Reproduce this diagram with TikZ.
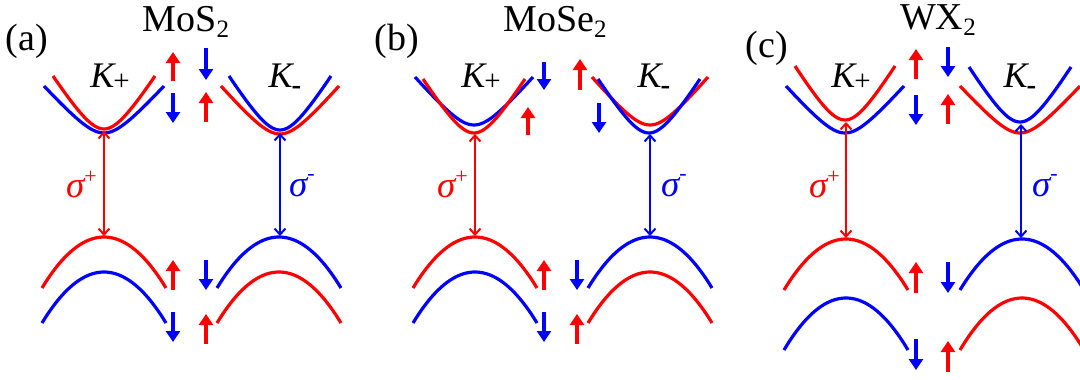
\documentclass[tikz,border=0pt]{standalone}
\usepackage{fontspec}
\setmainfont{Liberation Serif}
\usetikzlibrary{arrows.meta}
\definecolor{myred}{RGB}{255,0,0}
\definecolor{myblue}{RGB}{0,0,255}
\newcommand{\cband}[5]{\draw[band,#1] plot[domain=-#4:#4,samples=41,smooth] ({#2+\x},{#3+(#5-#3)*(sqrt(1+(\x/22)^2)-1)/(sqrt(1+(#4/22)^2)-1)});}
\newcommand{\vband}[5]{\draw[band,#1] plot[domain=-#4:#4,samples=41,smooth] ({#2+\x},{#3+(#5-#3)*(\x/#4)^2});}
\newcommand{\spinarrow}[4]{\draw[spinarr,#1] (#2,#3) -- (#2,#4);}
\newcommand{\Kp}{{\fontsize{36}{36}\selectfont\itshape K}\kern-1pt\raisebox{-3pt}{\fontsize{29}{29}\selectfont +}}
\newcommand{\Km}{{\fontsize{36}{36}\selectfont\itshape K}\kern-1pt\raisebox{-7pt}{\fontsize{29}{29}\selectfont\bfseries -}}
\newcommand{\sigp}{{\fontsize{37}{37}\selectfont\itshape σ}\raisebox{14pt}{\fontsize{22}{22}\selectfont +}}
\newcommand{\sigm}{{\fontsize{37}{37}\selectfont\itshape σ}\raisebox{16pt}{\fontsize{22}{22}\selectfont -}}
\newcommand{\sub}[1]{\raisebox{-6pt}{\fontsize{25}{25}\selectfont #1}}
\begin{document}
\begin{tikzpicture}[x=1pt,y=-1pt,
  band/.style={line width=3.2pt},
  spinarr/.style={line width=3.6pt,-{Triangle[length=11pt,width=14pt]}},
  trans/.style={line width=2pt,{Straight Barb[length=6pt,width=11pt]}-{Straight Barb[length=6pt,width=11pt]}},
  ttl/.style={font=\fontsize{38}{38}\selectfont,inner sep=0pt,anchor=base},
  klab/.style={inner sep=0pt,anchor=base},
  slab/.style={inner sep=0pt,anchor=base west}]
\useasboundingbox (0,0) rectangle (1080,380);
\clip (0,0) rectangle (1080,380);

% ---------- titles ----------
\node[ttl] (la) at (27,50) {(a)};
\node[ttl] (ta) at (186,31) {MoS\sub{2}};
\node[ttl] (lb) at (397,50) {(b)};
\node[ttl] (tb) at (555,31) {MoSe\sub{2}};
\node[ttl] (lc) at (767,57) {(c)};
\node[ttl] (tc) at (938,29) {WX\sub{2}};

\node[klab] (kpa) at (110,87) {\Kp};
\node[klab] (kma) at (285,87) {\Km};
\node[klab] (kpb) at (481,87) {\Kp};
\node[klab] (kmb) at (654,87) {\Km};
\node[klab] (kpc) at (851,87) {\Kp};
\node[klab] (kmc) at (1020,87) {\Km};

% ---------- panel (a) ----------
\cband{myred}{104}{129}{51}{76}
\cband{myblue}{104}{133}{60}{86}
\cband{myblue}{280}{130}{51}{76}
\cband{myred}{280}{134}{59}{86}
\vband{myred}{104}{237}{62}{288}
\vband{myblue}{104}{272}{62}{323}
\vband{myblue}{279}{237}{62}{288}
\vband{myred}{279}{272}{62}{323}
\spinarrow{myred}{173}{81}{52}
\spinarrow{myblue}{206}{48}{80}
\spinarrow{myblue}{173}{93}{123}
\spinarrow{myred}{206}{122}{92}
\spinarrow{myred}{173}{290}{260}
\spinarrow{myblue}{206}{260}{290}
\spinarrow{myblue}{173}{312}{342}
\spinarrow{myred}{206}{344}{314}
\coordinate (aC1) at (104,131);
\coordinate (aV1) at (104,236);
\coordinate (aC2) at (280,133);
\coordinate (aV2) at (280,236);
\draw[trans,myred] (aC1) -- (aV1);
\draw[trans,myblue] (aC2) -- (aV2);
\node[slab,text=myred] (sa1) at (66,197) {\sigp};
\node[slab,text=myblue] (sa2) at (289,196) {\sigm};

% ---------- panel (b) ----------
\cband{myblue}{474}{125}{59}{77}
\cband{myred}{474}{133}{51}{79}
\cband{myred}{650}{125}{58}{77}
\cband{myblue}{649}{133}{51}{79}
\vband{myred}{475}{237}{62}{288}
\vband{myblue}{475}{272}{62}{323}
\vband{myblue}{650}{237}{62}{288}
\vband{myred}{650}{272}{62}{323}
\spinarrow{myblue}{544}{62}{90}
\spinarrow{myred}{580}{90}{59}
\spinarrow{myred}{528}{135}{107}
\spinarrow{myblue}{599}{103}{133}
\spinarrow{myred}{544}{290}{260}
\spinarrow{myblue}{577}{260}{290}
\spinarrow{myblue}{544}{312}{342}
\spinarrow{myred}{577}{344}{314}
\coordinate (bC1) at (475,134);
\coordinate (bV1) at (475,236);
\coordinate (bC2) at (650,134);
\coordinate (bV2) at (650,236);
\draw[trans,myred] (bC1) -- (bV1);
\draw[trans,myblue] (bC2) -- (bV2);
\node[slab,text=myred] (sb1) at (437,197) {\sigp};
\node[slab,text=myblue] (sb2) at (661,196) {\sigm};

% ---------- panel (c) ----------
\cband{myred}{845}{120}{50}{66}
\cband{myblue}{845}{133}{59}{86}
\cband{myblue}{1020}{122}{51}{67}
\cband{myred}{1020}{133}{60}{86}
\vband{myred}{846}{239}{62}{290}
\vband{myblue}{846}{298}{62}{350}
\vband{myblue}{1022}{239}{62}{290}
\vband{myred}{1022}{298}{62}{350}
\spinarrow{myred}{916}{79}{49}
\spinarrow{myblue}{948}{47}{77}
\spinarrow{myblue}{916}{95}{125}
\spinarrow{myred}{948}{124}{94}
\spinarrow{myred}{916}{293}{262}
\spinarrow{myblue}{948}{262}{293}
\spinarrow{myblue}{916}{339}{370}
\spinarrow{myred}{948}{372}{341}
\coordinate (cC1) at (846,122);
\coordinate (cV1) at (846,238);
\coordinate (cC2) at (1021,124);
\coordinate (cV2) at (1021,238);
\draw[trans,myred] (cC1) -- (cV1);
\draw[trans,myblue] (cC2) -- (cV2);
\node[slab,text=myred] (sc1) at (809,197) {\sigp};
\node[slab,text=myblue] (sc2) at (1032,196) {\sigm};
\end{tikzpicture}
\end{document}
